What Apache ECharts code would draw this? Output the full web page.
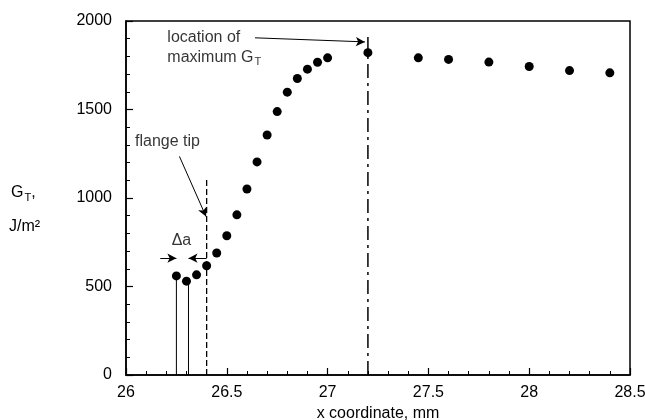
<!DOCTYPE html>
<html>
<head>
<meta charset="utf-8">
<script src="https://cdn.jsdelivr.net/npm/echarts@6/dist/echarts.min.js"></script>
<style>html,body{margin:0;padding:0;background:#fff;}#c{width:645px;height:420px;}</style>
</head>
<body>
<div id="c"></div>
<script>
// ---- data ----
const xCoord = [26.25, 26.30, 26.35, 26.40, 26.45, 26.50, 26.55, 26.60, 26.65, 26.70, 26.75, 26.80, 26.85, 26.90, 26.95, 27.00, 27.20, 27.45, 27.60, 27.80, 28.00, 28.20, 28.40];
const gT = [560, 530, 566, 617, 689, 787, 905, 1051, 1204, 1356, 1488, 1598, 1675, 1728, 1767, 1792, 1821, 1792, 1783, 1768, 1743, 1720, 1707];
const xTicks = [26, 26.5, 27, 27.5, 28, 28.5];
const yTicks = [0, 500, 1000, 1500, 2000];
// reference lines
const crackLineX = [26.25, 26.31];
const crackLineTop = [560, 530];
const flangeTipX = 26.40, flangeTipTop = 1110;
const maxGX = 27.20, maxGTop = 1910;
// arrows [x1,y1,x2,y2]
const arrowMax = [26.64, 1905, 27.185, 1882];
const arrowFlange = [26.265, 1235, 26.397, 895];
const arrowDaLeft = [26.17, 660, 26.25, 660];
const arrowDaRight = [26.40, 660, 26.31, 660];
// annotation anchors
const annLocation = [26.205, 1906];
const annMaximum = [26.205, 1794];
const annFlange = [26.045, 1317];
const annDa = [26.275, 758];

const FONT = '"Liberation Sans", Arial, Helvetica, sans-serif';
const chart = echarts.init(document.getElementById('c'));

function vline(x, top, type, w) {
  return {
    type: 'line', data: [[x, 0], [x, top]], symbol: 'none', silent: true,
    lineStyle: { color: '#000', width: w, type: type }, z: 3, animation: false
  };
}

const series = [
  {
    type: 'scatter', data: xCoord.map((x, i) => [x, gT[i]]),
    symbol: 'circle', symbolSize: 9, itemStyle: { color: '#000', opacity: 1 }, z: 5
  },
  vline(crackLineX[0], crackLineTop[0], 'solid', 1),
  vline(crackLineX[1], crackLineTop[1], 'solid', 1),
  vline(flangeTipX, flangeTipTop, [6, 3], 1.3),
  vline(maxGX, maxGTop, [14, 5, 3, 5], 1.5),
  {
    type: 'line', data: [], silent: true,
    markLine: {
      silent: true, animation: false,
      symbol: ['none', 'arrow'], symbolSize: [7, 9],
      label: { show: false },
      lineStyle: { color: '#000', width: 1, type: 'solid' },
      data: [arrowMax, arrowFlange, arrowDaLeft, arrowDaRight].map(a => [
        { coord: [a[0], a[1]] }, { coord: [a[2], a[3]] }
      ])
    }
  },
  {
    type: 'scatter', symbolSize: 0, silent: true, z: 6,
    data: [
      { value: annLocation, label: { formatter: 'location of' } },
      { value: annMaximum, label: { formatter: '{n|maximum G}{s|T}' } },
      { value: annFlange, label: { formatter: 'flange tip' } },
      { value: annDa, label: { formatter: 'Δa', position: 'inside' } }
    ],
    label: {
      show: true, position: 'right', distance: 0, color: '#000',
      fontFamily: FONT, fontSize: 16,
      rich: {
        n: { fontFamily: FONT, fontSize: 16, color: '#000' },
        s: { fontFamily: FONT, fontSize: 11, color: '#000', padding: [10, 0, 0, 1] }
      }
    }
  }
];

chart.setOption({
  animation: false,
  backgroundColor: '#fff',
  grid: { left: 126, right: 15, top: 21, bottom: 45, containLabel: false, outerBoundsMode: 'none',
    show: true, borderColor: '#000', borderWidth: 1.5, backgroundColor: 'transparent' },
  xAxis: {
    type: 'value', min: xTicks[0], max: xTicks[xTicks.length - 1], interval: 0.5,
    name: 'x coordinate, mm', nameLocation: 'middle', nameGap: 25,
    nameTextStyle: { fontFamily: FONT, fontSize: 16, color: '#000' },
    axisLine: { show: true, lineStyle: { color: '#000', width: 1.5 } },
    axisTick: { show: true, inside: true, length: 7, lineStyle: { color: '#000', width: 1.2 } },
    minorTick: { show: true, splitNumber: 5, length: 4, lineStyle: { color: '#000', width: 1 } },
    axisLabel: { fontFamily: FONT, fontSize: 16, color: '#000', margin: 10, formatter: v => String(v) },
    splitLine: { show: false }
  },
  yAxis: {
    type: 'value', min: yTicks[0], max: yTicks[yTicks.length - 1], interval: 500,
    axisLine: { show: true, lineStyle: { color: '#000', width: 1.5 } },
    axisTick: { show: true, inside: true, length: 7, lineStyle: { color: '#000', width: 1.2 } },
    minorTick: { show: true, splitNumber: 5, length: 4, lineStyle: { color: '#000', width: 1 } },
    axisLabel: { fontFamily: FONT, fontSize: 16, color: '#000', margin: 14, formatter: v => String(v) },
    splitLine: { show: false }
  },
  graphic: [
    { type: 'text', left: 11, top: 185, style: { text: '{n|G}{s|T}{n|,}', fill: '#000',
      rich: { n: { fontFamily: FONT, fontSize: 16, fill: '#000' }, s: { fontFamily: FONT, fontSize: 11, fill: '#000', padding: [10, 0, 0, 1] } } } },
    { type: 'text', left: 9, top: 219, style: { text: 'J/m²', fontFamily: FONT, fontSize: 16, fill: '#000' } }
  ],
  series: series
});
</script>
</body>
</html>
